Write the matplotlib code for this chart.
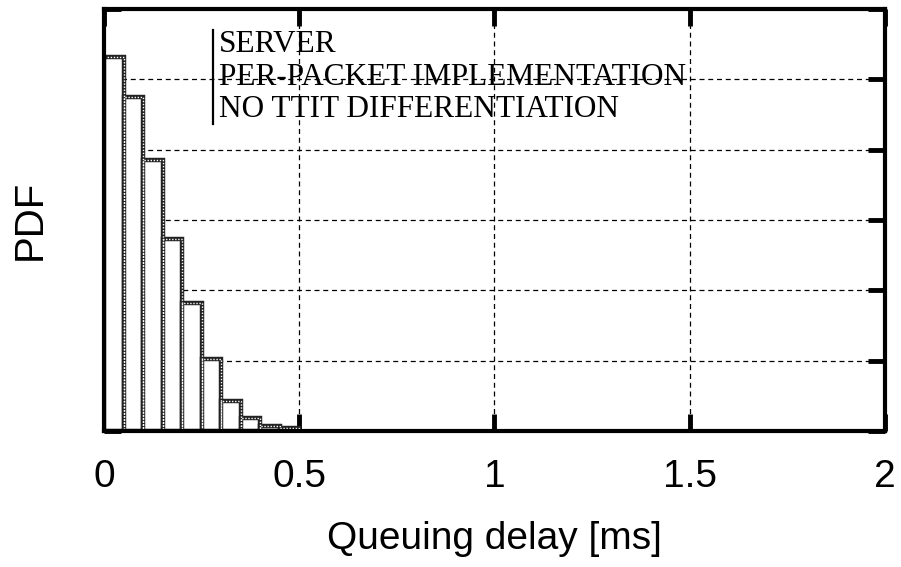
import matplotlib
matplotlib.use("Agg")
import matplotlib.pyplot as plt
import numpy as np

# histogram of queuing delay, bins of 0.05 ms
bin_edges = [0.0, 0.05, 0.10, 0.15, 0.20, 0.25, 0.30, 0.35, 0.40, 0.45, 0.50]
pdf_values = [5.32, 4.75, 3.85, 2.73, 1.82, 1.02, 0.43, 0.18, 0.07, 0.04]

x_ticks = [0, 0.5, 1, 1.5, 2]
x_tick_labels = ["0", "0.5", "1", "1.5", "2"]
y_ticks = [0, 1, 2, 3, 4, 5, 6]
annot_lines = ["SERVER", "PER-PACKET IMPLEMENTATION", "NO TTIT DIFFERENTIATION"]

sans = ["Liberation Sans", "DejaVu Sans"]
serif = ["Liberation Serif", "DejaVu Serif"]

fig = plt.figure(figsize=(9.01, 5.67), dpi=100)
ax = fig.add_axes([0.1154, 0.2399, 0.8668, 0.7442])

edges = np.array(bin_edges)
# white boxes, then a "rope" outline: dark line with white dots on it
ax.bar(edges[:-1], pdf_values, width=np.diff(edges), align="edge",
       facecolor="white", edgecolor="#222222", linewidth=3.2, zorder=3)
ax.bar(edges[:-1], pdf_values, width=np.diff(edges), align="edge",
       facecolor="none", edgecolor="white", linewidth=1.0,
       linestyle=(0, (1, 1.2)), zorder=3.1)

ax.set_xlim(0, 2)
ax.set_ylim(0, 6.0)
ax.set_xticks(x_ticks)
ax.set_xticklabels(x_tick_labels)
ax.set_yticks(y_ticks)
ax.set_yticklabels([])

ax.grid(True, color="black", linestyle=(0, (4, 3)), linewidth=0.9, zorder=1)
ax.set_axisbelow(True)

for s in ax.spines.values():
    s.set_linewidth(3)
    s.set_zorder(4)

ax.tick_params(axis="both", which="major", direction="in", length=12, width=3.5,
               top=True, right=True, labelsize=28, pad=20)
for lab in ax.get_xticklabels():
    lab.set_family(sans)

ax.set_xlabel("Queuing delay [ms]", fontsize=28, family=sans, labelpad=19)
ax.set_ylabel("PDF", fontsize=29, family=sans, labelpad=20)

# annotation block with a vertical bar on its left
for i, line in enumerate(annot_lines):
    ax.text(0.147, 0.897 - i * 0.077, line, transform=ax.transAxes,
            family=serif, fontsize=22.5, va="baseline", ha="left", zorder=5)
ax.plot([0.1395, 0.1395], [0.727, 0.95], transform=ax.transAxes,
        color="black", linewidth=1.6, zorder=5)

fig.savefig("out.png", dpi=100)
